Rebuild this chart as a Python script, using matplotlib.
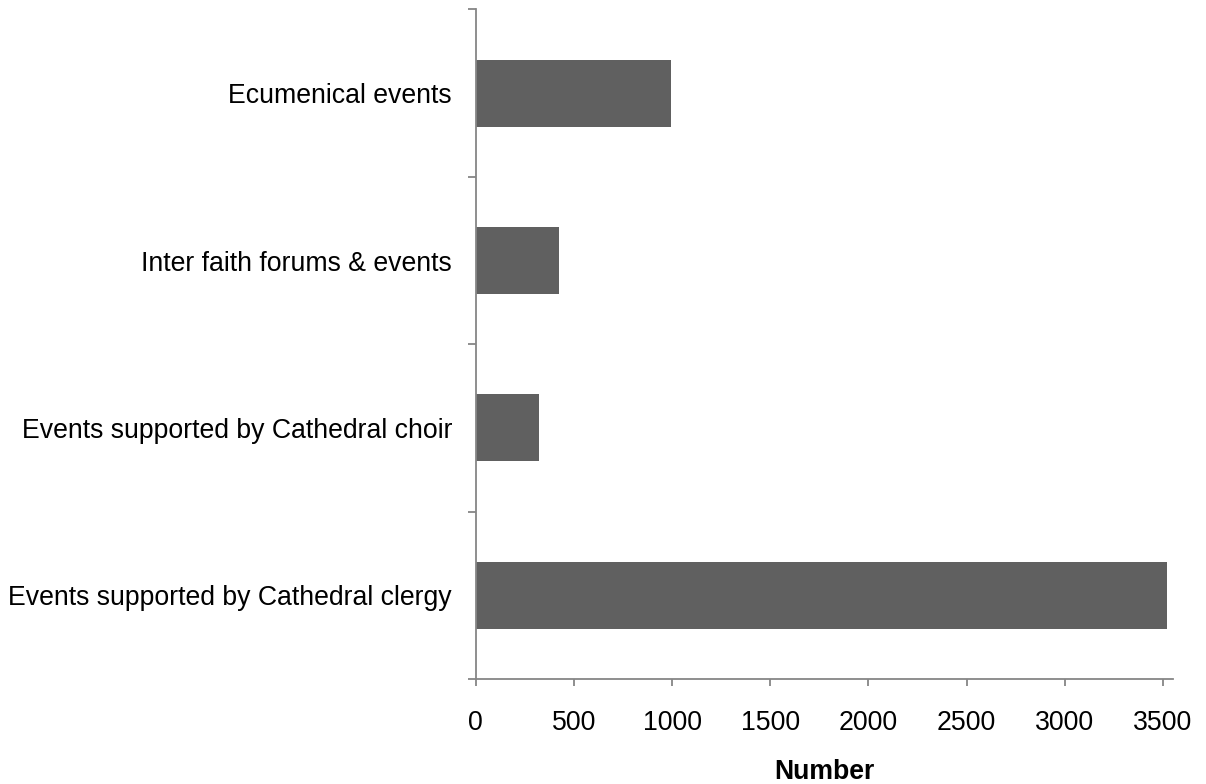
import matplotlib
matplotlib.use("Agg")
import matplotlib.pyplot as plt
import numpy as np

categories = ["Events supported by Cathedral clergy",
              "Events supported by Cathedral choir",
              "Inter faith forums & events",
              "Ecumenical events"]
values = [3520, 322, 424, 995]
xticks = [0, 500, 1000, 1500, 2000, 2500, 3000, 3500]

plt.rcParams['font.family'] = ['Liberation Sans', 'DejaVu Sans']

fig = plt.figure(figsize=(12.06, 7.84), dpi=100)
ax = fig.add_axes([0.3944, 0.1339, 0.578, 0.854])

pos = np.arange(len(categories))
ax.barh(pos, values, height=0.4, color='#606060')

ax.set_xlim(0, 3550)
ax.set_ylim(-0.5, len(categories) - 0.5)

axis_col = '#868686'
for s in ['top', 'right']:
    ax.spines[s].set_visible(False)
for s in ['left', 'bottom']:
    ax.spines[s].set_color(axis_col)
    ax.spines[s].set_linewidth(1.3)

fs = 19.2
ax.set_yticks(pos)
ax.set_yticklabels(categories, fontsize=fs)
ax.set_yticks(np.arange(len(categories) + 1) - 0.5, minor=True)
ax.tick_params(axis='y', which='major', length=0, pad=17)
ax.tick_params(axis='y', which='minor', length=6, width=1.3, color=axis_col)

ax.set_xticks(xticks)
ax.set_xticklabels([str(t) for t in xticks], fontsize=fs)
ax.tick_params(axis='x', length=5, width=1.3, color=axis_col, pad=17)

ax.set_xlabel("Number", fontsize=fs, fontweight='bold', labelpad=17)

fig.savefig("out.png", dpi=100)
